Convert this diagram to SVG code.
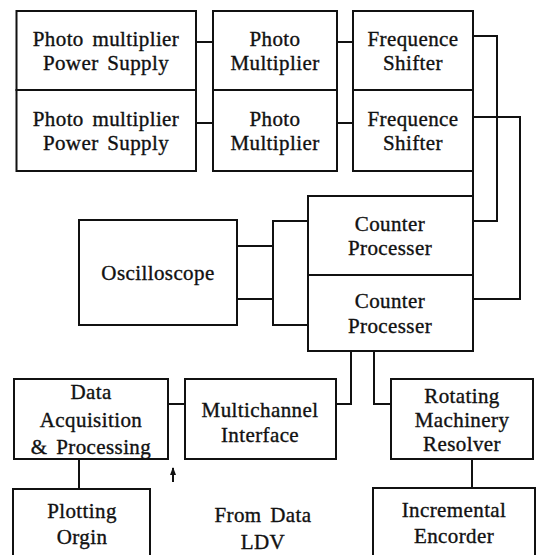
<svg xmlns="http://www.w3.org/2000/svg" width="541" height="555" viewBox="0 0 541 555">
  <style>
    .box { fill: #fff; stroke: #111; stroke-width: 2; }
    .wire { fill: none; stroke: #111; stroke-width: 2; }
    text { font-family: "Liberation Serif", "Times New Roman", serif; font-size: 21px; fill: #111; stroke: #111; stroke-width: 0.35; text-anchor: middle; letter-spacing: 0.4px; word-spacing: 3px; }
  </style>
  <defs>
    <marker id="head" viewBox="0 0 8 6" refX="7" refY="3" markerWidth="8" markerHeight="6" markerUnits="userSpaceOnUse" orient="auto">
      <path d="M0,0 L8,3 L0,6 Z" fill="#111"/>
    </marker>
  </defs>
  <rect width="541" height="555" fill="#fff"/>

  <!-- connectors -->
  <g id="connectors">
    <path class="wire" d="M196 42 H213 M196 123 H213"/>
    <path class="wire" d="M337 42 H353 M337 123 H353"/>
    <path class="wire" d="M473 36 H497 V221 H473"/>
    <path class="wire" d="M473 117 H520 V299 H473"/>
    <path class="wire" d="M473 171 V196"/>
    <path class="wire" d="M237 246 H273 M237 299 H273 M308 221 H273 V325 H308"/>
    <path class="wire" d="M351 351 V404 H336"/>
    <path class="wire" d="M374 351 V404 H391"/>
    <path class="wire" d="M168 404 H185"/>
    <path class="wire" d="M79 459 V489"/>
    <path class="wire" d="M472 459 V488"/>
    <path class="wire" d="M173 482 V468" marker-end="url(#head)" stroke-width="1.6"/>
  </g>

  <g id="pm-power-1">
    <rect class="box" x="16.5" y="11" width="179.5" height="79"/>
    <text x="106" y="46">Photo multiplier</text>
    <text x="106" y="70">Power Supply</text>
  </g>
  <g id="pm-power-2">
    <rect class="box" x="16.5" y="90" width="179.5" height="81"/>
    <text x="106" y="126">Photo multiplier</text>
    <text x="106" y="150">Power Supply</text>
  </g>
  <g id="photomultiplier-1">
    <rect class="box" x="213" y="11" width="124" height="79"/>
    <text x="275" y="46">Photo</text>
    <text x="275" y="70">Multiplier</text>
  </g>
  <g id="photomultiplier-2">
    <rect class="box" x="213" y="90" width="124" height="81"/>
    <text x="275" y="126">Photo</text>
    <text x="275" y="150">Multiplier</text>
  </g>
  <g id="shifter-1">
    <rect class="box" x="353" y="11" width="120" height="79"/>
    <text x="413" y="46">Frequence</text>
    <text x="413" y="70">Shifter</text>
  </g>
  <g id="shifter-2">
    <rect class="box" x="353" y="90" width="120" height="81"/>
    <text x="413" y="126">Frequence</text>
    <text x="413" y="150">Shifter</text>
  </g>
  <g id="counter-1">
    <rect class="box" x="308" y="196" width="165" height="79"/>
    <text x="390" y="231">Counter</text>
    <text x="390" y="255">Processer</text>
  </g>
  <g id="counter-2">
    <rect class="box" x="308" y="275" width="165" height="76"/>
    <text x="390" y="308">Counter</text>
    <text x="390" y="333">Processer</text>
  </g>
  <g id="oscilloscope">
    <rect class="box" x="79" y="220" width="158" height="105"/>
    <text x="158" y="280">Oscilloscope</text>
  </g>
  <g id="data-acquisition">
    <rect class="box" x="14" y="379" width="154" height="80"/>
    <text x="91" y="399">Data</text>
    <text x="91" y="427">Acquisition</text>
    <text x="91" y="454">&amp; Processing</text>
  </g>
  <g id="multichannel">
    <rect class="box" x="185" y="379" width="151" height="80"/>
    <text x="260" y="417">Multichannel</text>
    <text x="260" y="442">Interface</text>
  </g>
  <g id="resolver">
    <rect class="box" x="391" y="379" width="142" height="80"/>
    <text x="462" y="403">Rotating</text>
    <text x="462" y="427">Machinery</text>
    <text x="462" y="451">Resolver</text>
  </g>
  <g id="plotting">
    <rect class="box" x="13" y="489" width="137" height="80"/>
    <text x="82" y="518">Plotting</text>
    <text x="82" y="544">Orgin</text>
  </g>
  <g id="encoder">
    <rect class="box" x="373" y="488" width="162" height="80"/>
    <text x="454" y="517">Incremental</text>
    <text x="454" y="543">Encorder</text>
  </g>
  <g id="ldv-label">
    <text x="263" y="522">From Data</text>
    <text x="263" y="549">LDV</text>
  </g>
</svg>
